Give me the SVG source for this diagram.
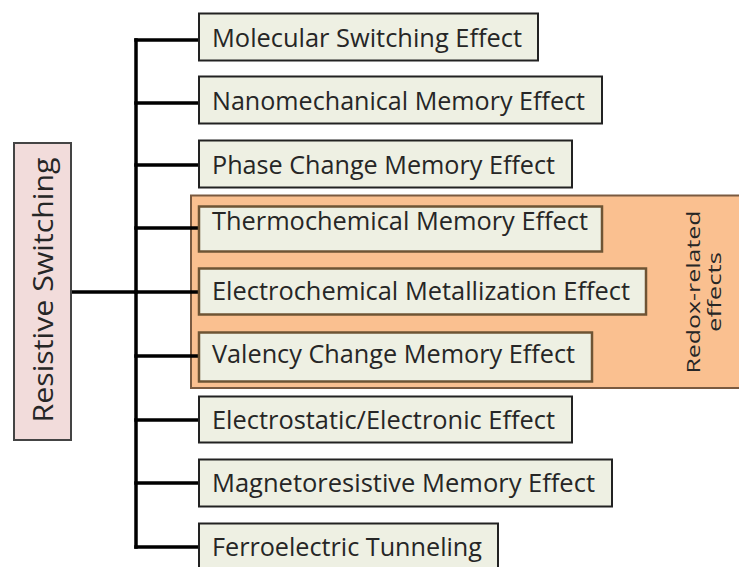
<svg xmlns="http://www.w3.org/2000/svg" width="739" height="567" viewBox="0 0 739 567">
<style>
.bg{fill:#ffffff}
.node rect{fill:#eef0e3;stroke:#222;stroke-width:2}
.inner rect{stroke:#6e5434;stroke-width:2.5}
.lbl{font-family:"Open Sans",Lato,"Liberation Sans",sans-serif;font-size:25px;fill:#262626}
.vt{font-family:"Open Sans",Lato,"Liberation Sans",sans-serif;fill:#262626}
.conn{stroke:#000;stroke-width:3.5;fill:none;stroke-linecap:square}
</style>
<rect class="bg" x="0" y="0" width="739" height="567"/>
<g id="redox-group">
<rect x="191" y="195.5" width="552" height="192.5" fill="#fac090" stroke="#7a5a40" stroke-width="2"/>
<text class="vt" transform="translate(700,292) rotate(-90)" text-anchor="middle" font-size="19" textLength="163" lengthAdjust="spacingAndGlyphs">Redox-related</text>
<text class="vt" transform="translate(721,292) rotate(-90)" text-anchor="middle" font-size="19" textLength="80" lengthAdjust="spacingAndGlyphs">effects</text>
</g>
<g id="connectors">
<path class="conn" d="M136,40 V547"/>
<path class="conn" d="M71,292 H136"/>
<path class="conn" d="M136,40 H198 M136,103 H198 M136,165 H198 M136,228 H198 M136,292 H198 M136,356 H198 M136,420 H198 M136,483 H198 M136,547 H198"/>
</g>
<g id="resistive-switching">
<rect x="14" y="143" width="57" height="297" fill="#f2dcdb" stroke="#444" stroke-width="2"/>
<text class="vt" transform="translate(53,290) rotate(-90)" text-anchor="middle" font-size="28" textLength="265" lengthAdjust="spacingAndGlyphs">Resistive Switching</text>
</g>
<g id="molecular" class="node">
<rect x="199" y="13.5" width="339" height="47"/>
<text class="lbl" x="212" y="47" textLength="310" lengthAdjust="spacingAndGlyphs">Molecular Switching Effect</text>
</g>
<g id="nanomechanical" class="node">
<rect x="199" y="76.5" width="403" height="47"/>
<text class="lbl" x="212" y="110" textLength="373" lengthAdjust="spacingAndGlyphs">Nanomechanical Memory Effect</text>
</g>
<g id="phase-change" class="node">
<rect x="199" y="140.5" width="373" height="47"/>
<text class="lbl" x="212" y="174" textLength="343" lengthAdjust="spacingAndGlyphs">Phase Change Memory Effect</text>
</g>
<g id="thermochemical" class="node inner">
<rect x="199" y="206.5" width="403" height="45"/>
<text class="lbl" x="212" y="230" textLength="376" lengthAdjust="spacingAndGlyphs">Thermochemical Memory Effect</text>
</g>
<g id="electrochemical" class="node inner">
<rect x="199" y="268.5" width="447" height="46"/>
<text class="lbl" x="212" y="300" textLength="418" lengthAdjust="spacingAndGlyphs">Electrochemical Metallization Effect</text>
</g>
<g id="valency" class="node inner">
<rect x="199" y="332.5" width="393" height="49"/>
<text class="lbl" x="212" y="363" textLength="363" lengthAdjust="spacingAndGlyphs">Valency Change Memory Effect</text>
</g>
<g id="electrostatic" class="node">
<rect x="199" y="396.5" width="373" height="46"/>
<text class="lbl" x="212" y="429" textLength="343" lengthAdjust="spacingAndGlyphs">Electrostatic/Electronic Effect</text>
</g>
<g id="magnetoresistive" class="node">
<rect x="199" y="459.5" width="413" height="47"/>
<text class="lbl" x="212" y="492" textLength="383" lengthAdjust="spacingAndGlyphs">Magnetoresistive Memory Effect</text>
</g>
<g id="ferroelectric" class="node">
<rect x="199" y="523.5" width="299" height="50"/>
<text class="lbl" x="212" y="556" textLength="270" lengthAdjust="spacingAndGlyphs">Ferroelectric Tunneling</text>
</g>
</svg>
